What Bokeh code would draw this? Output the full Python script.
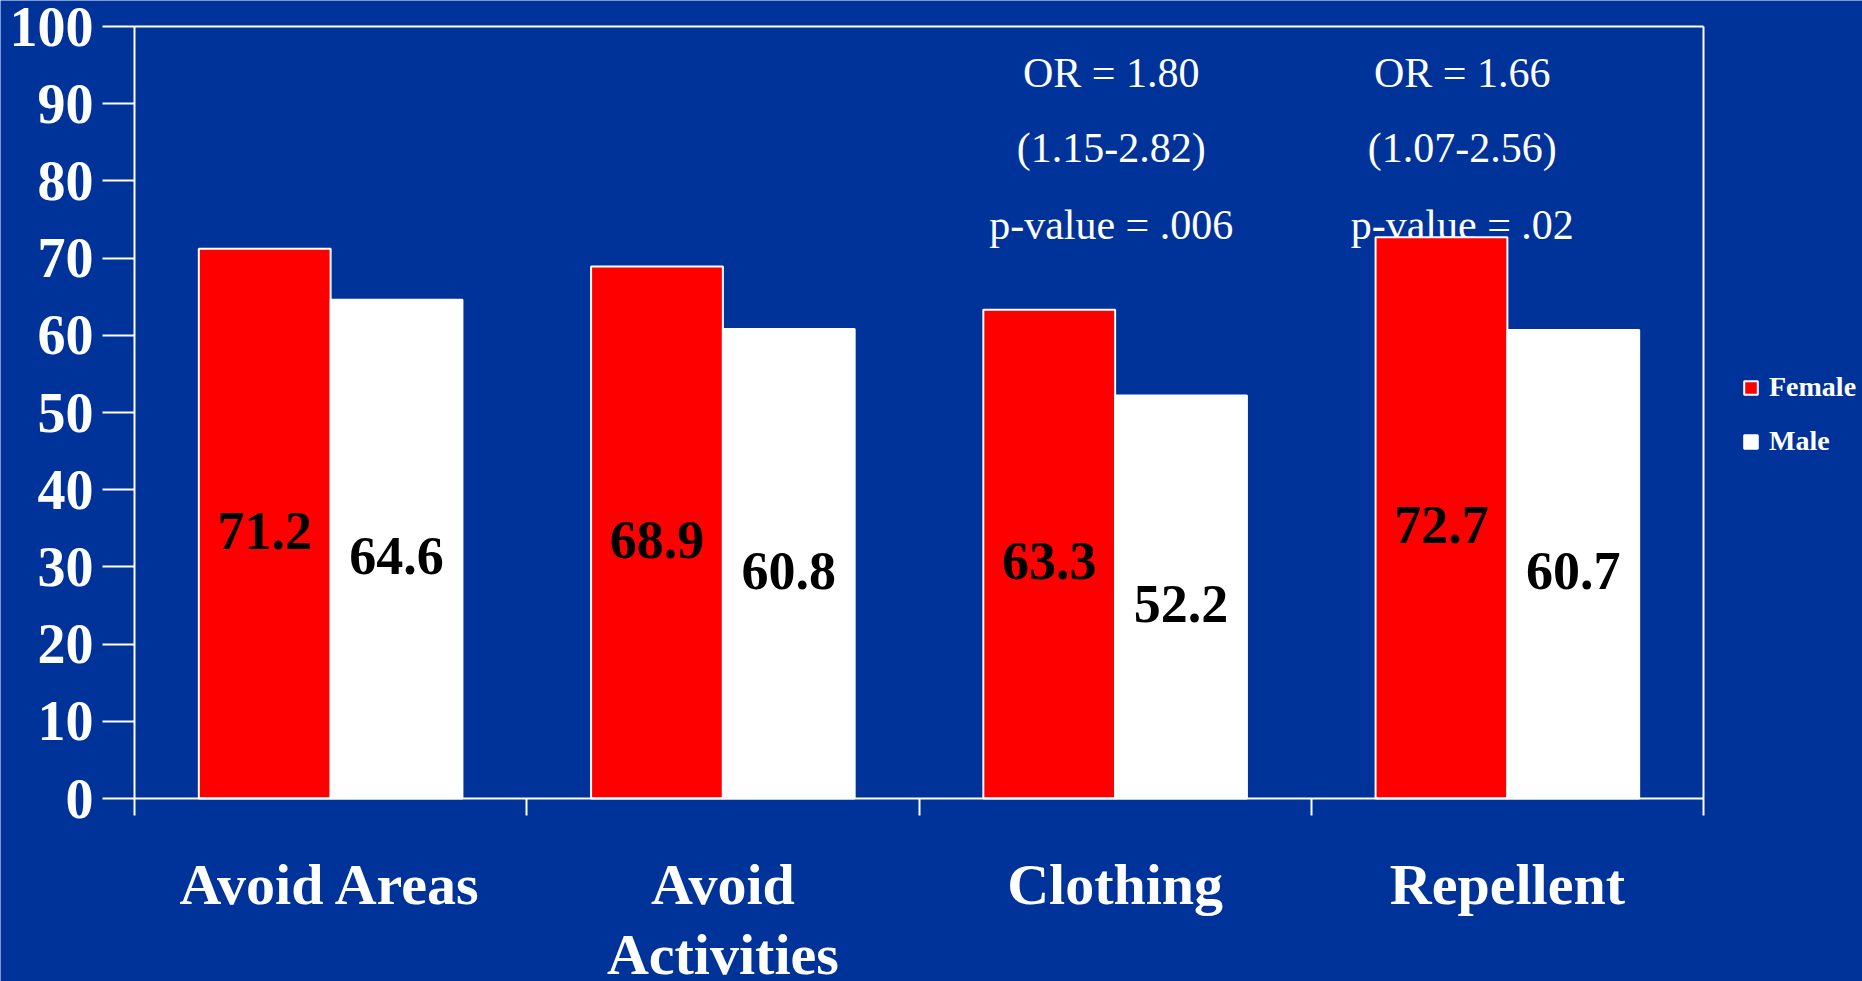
import numpy as np
from bokeh.plotting import figure
from bokeh.models import Range1d, FixedTicker, LinearAxis, Legend, LegendItem, ColumnDataSource
from bokeh.core.properties import value
from bokeh.embed import file_html
from bokeh.resources import INLINE

# ---------------- data ----------------
categories = ["Avoid Areas", "Avoid Activities", "Clothing", "Repellent"]
category_labels = ["Avoid Areas", "Avoid\nActivities", "Clothing", "Repellent"]
female = [71.2, 68.9, 63.3, 72.7]
male = [64.6, 60.8, 52.2, 60.7]
y_ticks = [0, 10, 20, 30, 40, 50, 60, 70, 80, 90, 100]

ann_categories = ["Clothing", "Repellent"]
ann_or = ["OR = 1.80", "OR = 1.66"]
ann_ci = ["(1.15-2.82)", "(1.07-2.56)"]
ann_p = ["p-value = .006", "p-value = .02"]

# ---------------- style / layout ----------------
BG = "#003399"
RED = "#FF0000"
SERIF = "Liberation Serif"
BAR_W = 0.336
ann_dx = {"Clothing": -0.01, "Repellent": -0.115}
ann_levels = [94.0, 84.2, 74.3]

W, H = 1862, 981
BOX_LEFT, BOX_TOP = 134, 26         # white plot box, in px
BOX_RIGHT, BOX_BOTTOM = 1703, 798

n = len(categories)
Y_MAX = 100
# the frame covers the whole canvas; every axis is pinned with fixed_location,
# so labels, legend and box edges all sit inside one seamless background
px_x = (BOX_RIGHT - BOX_LEFT) / n
px_y = (BOX_BOTTOM - BOX_TOP) / Y_MAX
x_range = Range1d(-BOX_LEFT / px_x, (W - BOX_LEFT) / px_x)
y_range = Range1d(-(H - BOX_BOTTOM) / px_y, Y_MAX + BOX_TOP / px_y)

centers = np.arange(n) + 0.5
xf = centers - BAR_W / 2
xm = centers + BAR_W / 2

p = figure(width=W, height=H, x_range=x_range, y_range=y_range, title=None,
           output_backend="svg", toolbar_location=None,
           min_border_left=0, min_border_right=0, min_border_top=0, min_border_bottom=0,
           x_axis_location=None, y_axis_location=None)
p.background_fill_color = BG
p.border_fill_color = BG
p.outline_line_color = None
p.grid.visible = False

# y axis at x = 0
ya = LinearAxis(fixed_location=0, bounds=(0, Y_MAX), ticker=FixedTicker(ticks=y_ticks),
                major_tick_out=32, major_tick_in=0, minor_tick_line_color=None,
                axis_line_color="white", axis_line_width=2,
                major_tick_line_color="white", major_tick_line_width=2,
                major_label_standoff=9, major_label_text_font=SERIF,
                major_label_text_font_style="bold", major_label_text_font_size="56px",
                major_label_text_color="white")
p.add_layout(ya, "left")

# x axis at y = 0: category labels at the centres, boundary ticks as minor ticks
cat_axis = LinearAxis(fixed_location=0, bounds=(0, n),
                      ticker=FixedTicker(ticks=list(centers), minor_ticks=list(range(n + 1))),
                      major_label_overrides={float(c): lab for c, lab in zip(centers, category_labels)},
                      axis_line_color="white", axis_line_width=2,
                      major_tick_line_color=None, major_tick_out=0, major_tick_in=0,
                      minor_tick_line_color="white", minor_tick_line_width=2,
                      minor_tick_out=17, minor_tick_in=0,
                      major_label_standoff=36,
                      major_label_text_font=SERIF, major_label_text_font_style="bold",
                      major_label_text_font_size="58px", major_label_text_color="white",
                      major_label_text_line_height=1.09)
p.add_layout(cat_axis, "below")

# top and right edges of the white box
top_edge = LinearAxis(fixed_location=Y_MAX, bounds=(0, n), ticker=FixedTicker(ticks=[]),
                      axis_line_color="white", axis_line_width=2, major_tick_out=0, major_tick_in=0,
                      minor_tick_line_color=None, major_label_text_font_size="0px",
                      major_label_standoff=0)
p.add_layout(top_edge, "above")
right_edge = LinearAxis(fixed_location=n, bounds=(0, Y_MAX), ticker=FixedTicker(ticks=[]),
                        axis_line_color="white", axis_line_width=2, major_tick_out=0, major_tick_in=0,
                        minor_tick_line_color=None, major_label_text_font_size="0px",
                        major_label_standoff=0)
p.add_layout(right_edge, "right")

# annotations (drawn before bars so bars cover them)
cat_index = {c: i for i, c in enumerate(categories)}
ann_x = [cat_index[c] + 0.5 + ann_dx[c] for c in ann_categories]
for lines, lvl in zip([ann_or, ann_ci, ann_p], ann_levels):
    p.text(x=ann_x, y=[lvl] * len(ann_x), text=lines, text_font=value(SERIF),
           text_font_size="42px", text_color="white", text_align="center",
           text_baseline="alphabetic")

# bars
src_f = ColumnDataSource(dict(x=xf, top=female, mid=[v / 2 for v in female], lab=[f"{v:.1f}" for v in female]))
src_m = ColumnDataSource(dict(x=xm, top=male, mid=[v / 2 for v in male], lab=[f"{v:.1f}" for v in male]))
r_f = p.vbar(x="x", top="top", bottom=0, width=BAR_W, source=src_f, fill_color=RED,
             line_color="white", line_width=2)
r_m = p.vbar(x="x", top="top", bottom=0, width=BAR_W, source=src_m, fill_color="white",
             line_color="white", line_width=2)

for src in (src_f, src_m):
    p.text(x="x", y="mid", text="lab", source=src, y_offset=7, text_font=value(SERIF),
           text_font_style="bold", text_font_size="54px", text_color="black",
           text_align="center", text_baseline="middle")

legend = Legend(items=[LegendItem(label="Female", renderers=[r_f]),
                       LegendItem(label="Male", renderers=[r_m])],
                location=(1742, 524), margin=0, padding=0, spacing=22,
                glyph_width=17, glyph_height=17, label_standoff=10,
                label_text_font=SERIF, label_text_font_style="bold",
                label_text_font_size="28px", label_text_color="white",
                background_fill_alpha=0, border_line_color=None)
p.add_layout(legend)

open("out.html", "w").write(file_html(p, INLINE))
